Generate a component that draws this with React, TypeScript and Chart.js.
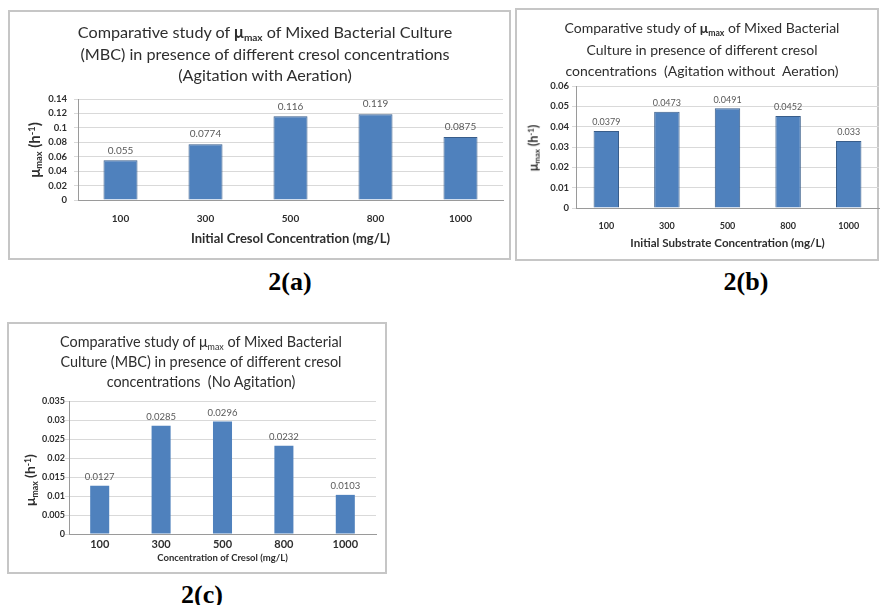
import React, { useEffect, useRef } from "react";
import { Chart, registerables } from "chart.js";

Chart.register(...registerables);

// Initial cresol concentrations (mg/L) shared by all three panels
const concentrations = ["100", "300", "500", "800", "1000"];

// μmax (h⁻¹) for each operating mode
const muMaxWithAeration = [0.055, 0.0774, 0.116, 0.119, 0.0875];
const muMaxWithoutAeration = [0.0379, 0.0473, 0.0491, 0.0452, 0.033];
const muMaxNoAgitation = [0.0127, 0.0285, 0.0296, 0.0232, 0.0103];

// Value-axis ranges
const yMaxA = 0.14;
const yStepA = 0.02;
const yMaxB = 0.06;
const yStepB = 0.01;
const yMaxC = 0.035;
const yStepC = 0.005;

const FONT = "Lato, 'Open Sans', sans-serif";
const BAR_FILL = "#4f81bd";
const BAR_EDGE = "#385d8a";
const GRID = "#d9d9d9";
const AXIS = "#9a9a9a";
const TEXT = "#2e2e2e";

// Writes each bar's value just above it
const valueLabels = {
  id: "valueLabels",
  afterDatasetsDraw(chart: any, _args: any, opts: any) {
    const ctx = chart.ctx;
    const meta = chart.getDatasetMeta(0);
    const values = chart.data.datasets[0].data;
    ctx.save();
    ctx.font = `${opts.size}px ${FONT}`;
    ctx.fillStyle = opts.color;
    ctx.textAlign = "center";
    ctx.textBaseline = "bottom";
    meta.data.forEach((bar: any, i: number) => {
      ctx.fillText(String(values[i]), bar.x, bar.y - opts.offset);
    });
    ctx.restore();
  },
};

type Box = { x: number; y: number; w: number; h: number };

type PanelProps = {
  box: Box;
  padTop: number;
  padRight: number;
  padBottom: number;
  yWidth: number;
  xHeight: number;
  values: number[];
  yMax: number;
  yStep: number;
  barPct: number;
  edged: boolean;
  yTickSize: number;
  yTickPad: number;
  xTickSize: number;
  xTickPad: number;
  xTitle: string;
  xTitleSize: number;
  valueSize: number;
  valueOffset: number;
};

function BarPanel(p: PanelProps) {
  const ref = useRef<HTMLCanvasElement | null>(null);

  useEffect(() => {
    if (!ref.current) return;
    const chart = new Chart(ref.current, {
      type: "bar",
      data: {
        labels: concentrations,
        datasets: [
          {
            data: p.values,
            backgroundColor: BAR_FILL,
            borderColor: BAR_EDGE,
            borderWidth: p.edged ? 1 : 0,
            barPercentage: p.barPct,
            categoryPercentage: 1,
          },
        ],
      },
      options: {
        responsive: false,
        animation: false,
        layout: {
          padding: { left: 0, top: p.padTop, right: p.padRight, bottom: p.padBottom },
        },
        plugins: {
          legend: { display: false },
          tooltip: { enabled: false },
          valueLabels: { size: p.valueSize, color: "#595959", offset: p.valueOffset },
        } as any,
        scales: {
          x: {
            grid: { display: false },
            border: { display: true, color: AXIS, width: 1 },
            ticks: {
              color: TEXT,
              padding: p.xTickPad,
              autoSkip: false,
              maxRotation: 0,
              font: { family: FONT, size: p.xTickSize, weight: "bold" },
            },
            title: {
              display: true,
              text: p.xTitle,
              color: TEXT,
              padding: 0,
              font: { family: FONT, size: p.xTitleSize, weight: "bold" },
            },
            afterFit: (s: any) => {
              s.height = p.xHeight;
            },
          },
          y: {
            min: 0,
            max: p.yMax,
            grid: { color: GRID, tickLength: 4 },
            border: { display: true, color: AXIS, width: 1 },
            ticks: {
              stepSize: p.yStep,
              autoSkip: false,
              color: TEXT,
              padding: p.yTickPad,
              font: { family: FONT, size: p.yTickSize, weight: "bold" },
              callback: (v: any) => String(parseFloat(Number(v).toFixed(4))),
            },
            afterFit: (s: any) => {
              s.width = p.yWidth;
            },
          },
        },
      },
      plugins: [valueLabels],
    });
    return () => chart.destroy();
  }, []);

  return (
    <canvas
      ref={ref}
      width={p.box.w}
      height={p.box.h}
      style={{ position: "absolute", left: p.box.x, top: p.box.y, width: p.box.w, height: p.box.h }}
    />
  );
}

const subStyle: React.CSSProperties = { fontSize: "0.62em", verticalAlign: "-0.3em", lineHeight: 0 };
const supStyle: React.CSSProperties = { fontSize: "0.62em", verticalAlign: "0.5em", lineHeight: 0 };

function Frame({ box }: { box: Box }) {
  return (
    <div
      style={{
        position: "absolute",
        left: box.x - 1,
        top: box.y - 1,
        width: box.w,
        height: box.h,
        border: "2px solid #c6c6c6",
        boxSizing: "border-box",
      }}
    />
  );
}

function Title({ cx, top, size, lh, lines }: { cx: number; top: number; size: number; lh: number; lines: React.ReactNode[] }) {
  return (
    <div
      style={{
        position: "absolute",
        left: cx - 250,
        top,
        width: 500,
        textAlign: "center",
        fontFamily: FONT,
        fontSize: size,
        lineHeight: `${lh}px`,
        color: TEXT,
        whiteSpace: "pre",
      }}
    >
      {lines.map((l, i) => (
        <div key={i}>{l}</div>
      ))}
    </div>
  );
}

function YTitle({ cx, cy, size }: { cx: number; cy: number; size: number }) {
  return (
    <div
      style={{
        position: "absolute",
        left: cx,
        top: cy,
        transform: "translate(-50%, -50%) rotate(-90deg)",
        fontFamily: FONT,
        fontWeight: "bold",
        fontSize: size,
        color: TEXT,
        whiteSpace: "nowrap",
        lineHeight: 1,
      }}
    >
      μ<span style={subStyle}>max</span> (h<span style={supStyle}>-1</span>)
    </div>
  );
}

function PanelTag({ cx, cy, text }: { cx: number; cy: number; text: string }) {
  return (
    <div
      style={{
        position: "absolute",
        left: cx,
        top: cy,
        transform: "translate(-50%, -50%)",
        fontFamily: "'Liberation Serif', 'Times New Roman', serif",
        fontWeight: "bold",
        fontSize: 26,
        color: "#000",
        whiteSpace: "nowrap",
        lineHeight: 1,
      }}
    >
      {text}
    </div>
  );
}

const boxA: Box = { x: 9, y: 11, w: 503, h: 250 };
const boxB: Box = { x: 516, y: 9, w: 364, h: 253 };
const boxC: Box = { x: 8, y: 323, w: 380, h: 252 };

export default function App() {
  return (
    <div style={{ position: "absolute", left: 0, top: 0, width: 881, height: 605, background: "#fff", overflow: "hidden" }}>
      <Frame box={boxA} />
      <Frame box={boxB} />
      <Frame box={boxC} />

      <BarPanel
        box={boxA}
        padTop={88}
        padRight={9}
        padBottom={14}
        yWidth={69}
        xHeight={47}
        values={muMaxWithAeration}
        yMax={yMaxA}
        yStep={yStepA}
        barPct={0.4}
        edged={true}
        yTickSize={9.5}
        yTickPad={7}
        xTickSize={10}
        xTickPad={5}
        xTitle="Initial Cresol Concentration (mg/L)"
        xTitleSize={13}
        valueSize={10}
        valueOffset={5}
      />
      <BarPanel
        box={boxB}
        padTop={77}
        padRight={1}
        padBottom={12}
        yWidth={60}
        xHeight={42}
        values={muMaxWithoutAeration}
        yMax={yMaxB}
        yStep={yStepB}
        barPct={0.42}
        edged={true}
        yTickSize={9.5}
        yTickPad={3}
        xTickSize={9}
        xTickPad={5}
        xTitle="Initial Substrate Concentration (mg/L)"
        xTitleSize={11.6}
        valueSize={9}
        valueOffset={4}
      />
      <BarPanel
        box={boxC}
        padTop={78}
        padRight={12}
        padBottom={11}
        yWidth={61}
        xHeight={30}
        values={muMaxNoAgitation}
        yMax={yMaxC}
        yStep={yStepC}
        barPct={0.31}
        edged={false}
        yTickSize={9}
        yTickPad={0}
        xTickSize={11}
        xTickPad={-4}
        xTitle="Concentration of Cresol (mg/L)"
        xTitleSize={9.5}
        valueSize={9.5}
        valueOffset={4}
      />

      <Title
        cx={265}
        top={21}
        size={16.2}
        lh={21.5}
        lines={[
          <>Comparative study of <b>μ<span style={subStyle}>max</span></b> of Mixed Bacterial Culture</>,
          "(MBC) in presence of different cresol concentrations",
          "(Agitation with Aeration)",
        ]}
      />
      <Title
        cx={702}
        top={17}
        size={14}
        lh={21.5}
        lines={[
          <>Comparative study of <b>μ<span style={subStyle}>max</span></b> of Mixed Bacterial</>,
          "Culture in presence of different cresol",
          "concentrations  (Agitation without  Aeration)",
        ]}
      />
      <Title
        cx={201}
        top={332}
        size={14.4}
        lh={20}
        lines={[
          <>Comparative study of μ<span style={subStyle}>max</span> of Mixed Bacterial</>,
          "Culture (MBC) in presence of different cresol",
          "concentrations  (No Agitation)",
        ]}
      />

      <YTitle cx={34} cy={150} size={15} />
      <YTitle cx={534} cy={148} size={12.5} />
      <YTitle cx={30} cy={480} size={14} />

      <PanelTag cx={290} cy={282} text="2(a)" />
      <PanelTag cx={746} cy={282} text="2(b)" />
      <PanelTag cx={202} cy={595} text="2(c)" />
    </div>
  );
}
